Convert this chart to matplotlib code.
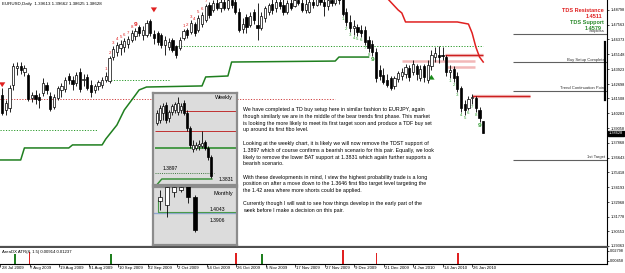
import numpy as np
import matplotlib
matplotlib.use('Agg')
import matplotlib.pyplot as plt
import matplotlib.transforms as mtransforms

plt.rcParams['font.family'] = ['Liberation Sans', 'DejaVu Sans']

# ---------------------------------------------------------------
# Data
# ---------------------------------------------------------------

# daily EURUSD candles, bar 1 = 29 Jul 2009 ... bar 131 = 29 Jan 2010
opens = [1.4179, 1.4056, 1.4072, 1.4262, 1.4402, 1.4418, 1.4369, 1.4344, 1.4155, 1.4179,
         1.4163, 1.4196, 1.4262, 1.4171, 1.4081, 1.4155, 1.4221, 1.4229, 1.4336, 1.4303,
         1.4278, 1.4369, 1.4303, 1.4328, 1.4262, 1.4221, 1.4254, 1.4262, 1.4303, 1.4295,
         1.4492, 1.4534, 1.4567, 1.4575, 1.4600, 1.4632, 1.4665, 1.4740, 1.4674, 1.4674,
         1.4789, 1.4682, 1.4690, 1.4674, 1.4591, 1.4575, 1.4632, 1.4583, 1.4567, 1.4649,
         1.4715, 1.4698, 1.4764, 1.4715, 1.4764, 1.4797, 1.4921, 1.4880, 1.4937, 1.4896,
         1.4946, 1.4896, 1.4962, 1.4946, 1.4863, 1.4723, 1.4822, 1.4756, 1.4863, 1.4756,
         1.4731, 1.4814, 1.4863, 1.4929, 1.4896, 1.4946, 1.4921, 1.4863, 1.4937, 1.4913,
         1.4962, 1.4937, 1.4880, 1.4863, 1.4946, 1.4921, 1.4978, 1.4946, 1.4913, 1.4962,
         1.4937, 1.4978, 1.4970, 1.4863, 1.4781, 1.4731, 1.4740, 1.4715, 1.4715, 1.4632,
         1.4600, 1.4534, 1.4385, 1.4344, 1.4303, 1.4319, 1.4254, 1.4311, 1.4336, 1.4352,
         1.4402, 1.4369, 1.4418, 1.4319, 1.4418, 1.4303, 1.4418, 1.4492, 1.4509, 1.4509,
         1.4492, 1.4369, 1.4394, 1.4336, 1.4237, 1.4105, 1.4072, 1.4155, 1.4155, 1.4056,
         1.39613]
highs = [1.4237, 1.4138, 1.4262, 1.4443, 1.4451, 1.4451, 1.4427, 1.4361, 1.4204, 1.4221,
         1.4196, 1.4319, 1.4287, 1.4204, 1.4188, 1.4254, 1.4278, 1.4328, 1.4361, 1.4336,
         1.4369, 1.4402, 1.4352, 1.4352, 1.4303, 1.4270, 1.4303, 1.4328, 1.4369, 1.4501,
         1.4583, 1.4616, 1.4632, 1.4649, 1.4665, 1.4715, 1.4731, 1.4756, 1.4748, 1.4797,
         1.4805, 1.4715, 1.4707, 1.4690, 1.4665, 1.4649, 1.4649, 1.4591, 1.4657, 1.4723,
         1.4731, 1.4797, 1.4781, 1.4838, 1.4863, 1.4929, 1.4946, 1.4962, 1.4978, 1.4978,
         1.4987, 1.4995, 1.5003, 1.4987, 1.4896, 1.4814, 1.4847, 1.4863, 1.4888, 1.4937,
         1.4863, 1.4913, 1.4937, 1.4978, 1.4987, 1.4995, 1.4978, 1.4962, 1.4987, 1.5003,
         1.5011, 1.4987, 1.4978, 1.4987, 1.5003, 1.5011, 1.5028, 1.5003, 1.4995, 1.5011,
         1.5020, 1.5028, 1.4995, 1.4896, 1.4838, 1.4797, 1.4764, 1.4756, 1.4748, 1.4665,
         1.4632, 1.4567, 1.4427, 1.4402, 1.4352, 1.4336, 1.4336, 1.4377, 1.4402, 1.4435,
         1.4427, 1.4468, 1.4435, 1.4427, 1.4435, 1.4468, 1.4550, 1.4575, 1.4583, 1.4575,
         1.4509, 1.4427, 1.4418, 1.4369, 1.4254, 1.4138, 1.4171, 1.4188, 1.4171, 1.4081,
         1.39662]
lows = [1.4015, 1.4015, 1.4039, 1.4221, 1.4344, 1.4352, 1.4336, 1.4130, 1.4122, 1.4105,
        1.4072, 1.4171, 1.4188, 1.4048, 1.4064, 1.4138, 1.4163, 1.4204, 1.4270, 1.4221,
        1.4254, 1.4204, 1.4254, 1.4221, 1.4163, 1.4196, 1.4221, 1.4237, 1.4287, 1.4278,
        1.4468, 1.4501, 1.4509, 1.4534, 1.4567, 1.4616, 1.4632, 1.4665, 1.4632, 1.4657,
        1.4665, 1.4600, 1.4591, 1.4567, 1.4509, 1.4550, 1.4534, 1.4484, 1.4550, 1.4632,
        1.4649, 1.4682, 1.4665, 1.4698, 1.4740, 1.4781, 1.4814, 1.4863, 1.4880, 1.4863,
        1.4880, 1.4880, 1.4896, 1.4847, 1.4698, 1.4690, 1.4690, 1.4740, 1.4764, 1.4632,
        1.4715, 1.4781, 1.4838, 1.4847, 1.4863, 1.4888, 1.4838, 1.4847, 1.4880, 1.4904,
        1.4921, 1.4863, 1.4855, 1.4855, 1.4896, 1.4913, 1.4921, 1.4830, 1.4880, 1.4913,
        1.4921, 1.4929, 1.4830, 1.4748, 1.4698, 1.4674, 1.4665, 1.4657, 1.4591, 1.4534,
        1.4501, 1.4287, 1.4303, 1.4270, 1.4245, 1.4221, 1.4229, 1.4287, 1.4303, 1.4319,
        1.4295, 1.4344, 1.4303, 1.4295, 1.4287, 1.4278, 1.4385, 1.4451, 1.4443, 1.4468,
        1.4336, 1.4319, 1.4287, 1.4204, 1.4039, 1.4015, 1.4056, 1.4105, 1.4039, 1.3957,
        1.38625]
closes = [1.4031, 1.4114, 1.4237, 1.4418, 1.4418, 1.4385, 1.4402, 1.4147, 1.4179, 1.4147,
          1.4138, 1.4278, 1.4221, 1.4064, 1.4163, 1.4237, 1.4254, 1.4303, 1.4303, 1.4270,
          1.4344, 1.4229, 1.4311, 1.4237, 1.4204, 1.4254, 1.4287, 1.4303, 1.4336, 1.4484,
          1.4558, 1.4591, 1.4600, 1.4624, 1.4641, 1.4690, 1.4707, 1.4690, 1.4715, 1.4772,
          1.4690, 1.4649, 1.4616, 1.4591, 1.4632, 1.4616, 1.4550, 1.4509, 1.4632, 1.4707,
          1.4674, 1.4772, 1.4690, 1.4814, 1.4838, 1.4913, 1.4838, 1.4937, 1.4896, 1.4946,
          1.4896, 1.4962, 1.4921, 1.4863, 1.4715, 1.4764, 1.4740, 1.4830, 1.4797, 1.4731,
          1.4830, 1.4896, 1.4921, 1.4880, 1.4946, 1.4913, 1.4863, 1.4937, 1.4896, 1.4962,
          1.4937, 1.4880, 1.4929, 1.4946, 1.4921, 1.4978, 1.4946, 1.4913, 1.4962, 1.4937,
          1.4978, 1.4962, 1.4847, 1.4781, 1.4731, 1.4748, 1.4698, 1.4690, 1.4616, 1.4567,
          1.4534, 1.4319, 1.4336, 1.4287, 1.4262, 1.4237, 1.4319, 1.4361, 1.4369, 1.4410,
          1.4328, 1.4435, 1.4352, 1.4394, 1.4328, 1.4427, 1.4509, 1.4525, 1.4492, 1.4501,
          1.4369, 1.4385, 1.4319, 1.4229, 1.4072, 1.4056, 1.4147, 1.4163, 1.4072, 1.3990,
          1.38628]

# date labels every 8 bars (bar 0 = 28 Jul 2009)
date_bars = [0, 8, 16, 24, 32, 40, 48, 56, 64, 72, 80, 88, 96, 104, 112, 120, 128]
date_text = ['28 Jul 2009', '7 Aug 2009', '19 Aug 2009', '31 Aug 2009', '10 Sep 2009',
             '22 Sep 2009', '2 Oct 2009', '14 Oct 2009', '26 Oct 2009', '5 Nov 2009',
             '17 Nov 2009', '27 Nov 2009', '9 Dec 2009', '21 Dec 2009', '4 Jan 2010',
             '14 Jan 2010', '26 Jan 2010']

axis_levels = [1.48798, 1.47563, 1.46373, 1.45148, 1.43923, 1.42698, 1.41508, 1.40283,
               1.39058, 1.37868, 1.36643, 1.35418, 1.34193, 1.32968, 1.31778, 1.30553, 1.29363]
last_price = 1.38628
# dark marker on the price scale (from, to)
scale_marker = (1.4616, 1.4138)

# TDST support (green) and resistance (red) lines
support_bars = [0, 6, 7, 19, 20, 28, 29, 32, 34, 36, 37, 38, 40, 55, 56, 62, 63, 91, 92, 100]
support_vals = [1.3644, 1.3644, 1.3743, 1.3743, 1.3768, 1.3768, 1.3817, 1.3932, 1.4056, 1.4138,
                1.4179, 1.4221, 1.4245, 1.4254, 1.4328, 1.4336, 1.4451, 1.4459, 1.4492, 1.4492]
resist_bars = [104, 105, 108, 109, 110, 124, 127, 128, 129, 130, 131]
resist_vals = [1.5020, 1.4978, 1.4880, 1.4855, 1.4781, 1.4781, 1.4764, 1.4690, 1.4575, 1.4492, 1.4451]

# dotted setup levels: (level, start bar, end bar)
green_dotted = [(1.3891, 0.4, 26.6), (1.4303, 29.6, 46.3), (1.4579, 48.5, 131)]
red_dotted = [(1.4147, 0.4, 91)]
# TD resistance lines (solid red) and pale bands
red_lines = [(1.4511, 120.7, 131), (1.4171, 128, 143.6)]
pink_bands = [(1.4459, 109, 128.8), (1.4410, 121.2, 128.8)]

# TD count bars
red_count_1 = list(range(29, 38))
red_count_2 = list(range(50, 57))
green_count_1 = list(range(93, 102))
green_count_2 = list(range(122, 131))

# arrows: (bar, tail, tip)
red_arrows = [(1, 1.4287, 1.4221), (42, 1.4896, 1.4838)]
green_arrows = [(117, 1.4311, 1.4369)]

# annotation levels on the right
levels_text = ['Stoploss', 'Buy Setup Complete', 'Trend Continuation Point', '1st Target']
levels_vals = [1.4682, 1.4451, 1.4213, 1.3646]

# indicator spikes
spike_bars = [4, 8, 30, 64, 71, 93, 102, 124]
spike_vals = [0.0210, 0.0257, 0.0210, 0.0233, 0.0210, 0.0304, 0.0233, 0.0233]
spike_up = [True, False, True, False, True, False, False, False]

# weekly inset candles
wk_open = [1.4447, 1.4480, 1.4557, 1.4645, 1.4502, 1.4568, 1.4590, 1.4568, 1.4590, 1.4667,
           1.4557, 1.4392, 1.4161, 1.4172, 1.4194, 1.4194, 1.4238, 1.4172, 1.4073]
wk_high = [1.4590, 1.4645, 1.4667, 1.4678, 1.4590, 1.4656, 1.4678, 1.4733, 1.4667, 1.4700,
           1.4590, 1.4414, 1.4260, 1.4238, 1.4260, 1.4359, 1.4260, 1.4194, 1.4095]
wk_low = [1.4425, 1.4447, 1.4480, 1.4447, 1.4458, 1.4535, 1.4557, 1.4535, 1.4557, 1.4535,
          1.4359, 1.4172, 1.4128, 1.4150, 1.4150, 1.4172, 1.4150, 1.4040, 1.3842]
wk_close = [1.4557, 1.4612, 1.4634, 1.4480, 1.4568, 1.4634, 1.4656, 1.4667, 1.4634, 1.4557,
            1.4392, 1.4205, 1.4205, 1.4205, 1.4216, 1.4227, 1.4172, 1.4073, 1.3864]

# monthly inset candles
mo_open = [1.4483, 1.4323, 1.4843, 1.4923, 1.5083, 1.4643]
mo_high = [1.4923, 1.5123, 1.5123, 1.5123, 1.5123, 1.4723]
mo_low = [1.4123, 1.3843, 1.4643, 1.4843, 1.4403, 1.3243]
mo_close = [1.4643, 1.5043, 1.5043, 1.5043, 1.4643, 1.3323]

comment = [
    ["We have completed a TD buy setup here in similar fashion to EURJPY, again",
     "though similarly we are in the middle of the bear trends first phase. This market",
     "is looking the more likely to meet its first target soon and produce a TDF buy set",
     "up around its first fibo level."],
    ["Looking at the weekly chart, it is likely we will now remove the TDST support of",
     "1.3897 which of course confirms a bearish scenario for this pair. Equally, we look",
     "likely to remove the lower BAT support at 1.3831 which again further supports a",
     "bearish scenario."],
    ["With these developments in mind, I view the highest probability trade is a long",
     "position on after a move down to the 1.3646 first fibo target level targeting the",
     "the 1.42 area where more shorts could be applied."],
    ["Currently though I will wait to see how things develop in the early part of the",
     "week before I make a decision on this pair."],
]

RED = '#e02020'
GREEN = '#1f7f1f'

# ---------------------------------------------------------------
# Helpers
# ---------------------------------------------------------------

W, H = 625, 273


def px_rect(x0, y0, x1, y1):
    """axes rectangle from pixel corners (top-left origin)"""
    return [x0 / W, 1 - y1 / H, (x1 - x0) / W, (y1 - y0) / H]


def candles(axis, xs, o, h, l, c, width, min_body):
    o, h, l, c = map(np.asarray, (o, h, l, c))
    xs = np.asarray(xs)
    up = c >= o
    axis.vlines(xs, l, h, color='black', lw=0.6, zorder=3)
    lo = np.minimum(o, c)
    hgt = np.maximum(np.abs(c - o), min_body)
    axis.bar(xs[up], hgt[up], bottom=lo[up], width=width, color='white',
             edgecolor='black', lw=0.5, zorder=4)
    axis.bar(xs[~up], hgt[~up], bottom=lo[~up], width=width, color='black',
             edgecolor='black', lw=0.5, zorder=4)


def bare(axis):
    axis.set_xticks([])
    axis.set_yticks([])


# ---------------------------------------------------------------
# Figure
# ---------------------------------------------------------------

fig = plt.figure(figsize=(6.25, 2.73), dpi=100)
ax = fig.add_axes(px_rect(0, 0, 607, 247))
ax2 = fig.add_axes(px_rect(0, 248, 607, 264))

bars = np.arange(1, len(closes) + 1)
candles(ax, bars, opens, highs, lows, closes, 0.6, 0.0003)

ax.set_xlim(0.405, 164.45)
ax.set_ylim(1.2927, 1.4962)

# TDST lines
ax.plot(support_bars, support_vals, color=GREEN, lw=1.1, zorder=2)
ax.plot(resist_bars, resist_vals, color=RED, lw=1.1, zorder=2)

for lvl, a, b in green_dotted:
    ax.hlines(lvl, a, b, color='#2a9a2a', lw=0.7, linestyles=(0, (1.2, 1.6)), zorder=1)
for lvl, a, b in red_dotted:
    ax.hlines(lvl, a, b, color='#d04040', lw=0.7, linestyles=(0, (1.2, 1.6)), zorder=1)
for lvl, a, b in pink_bands:
    ax.hlines(lvl, a, b, color='#f2b8b8', lw=1.8, zorder=1)
for lvl, a, b in red_lines:
    ax.hlines(lvl, a, b, color='#f2b8b8', lw=2.4, zorder=1)
    ax.hlines(lvl, a, b, color='#cc2020', lw=0.9, zorder=2)


# TD counts
def put_counts(count_bars, color, above):
    for n, b in enumerate(count_bars, start=1):
        big = n == 9
        if above:
            ax.annotate(str(n), (b, highs[b - 1]), xytext=(0, 0.8), textcoords='offset points',
                        ha='center', va='bottom', color=color, fontsize=4.6 if big else 3.2,
                        fontweight='bold' if big else 'normal', zorder=6)
        else:
            ax.annotate(str(n), (b, lows[b - 1]), xytext=(0, -0.8), textcoords='offset points',
                        ha='center', va='top', color=color, fontsize=4.6 if big else 3.2,
                        fontweight='bold' if big else 'normal', zorder=6)


put_counts(red_count_1, RED, True)
put_counts(red_count_2, RED, True)
put_counts(green_count_1, '#2e9a2e', False)
put_counts(green_count_2, '#2e9a2e', False)

arrow_style = 'simple,head_width=0.9,head_length=0.7,tail_width=0.35'
for b, tail, tip in red_arrows:
    ax.annotate('', xy=(b, tip), xytext=(b, tail),
                arrowprops=dict(arrowstyle=arrow_style, mutation_scale=5, color=RED, lw=0))
for b, tail, tip in green_arrows:
    ax.annotate('', xy=(b, tip), xytext=(b, tail),
                arrowprops=dict(arrowstyle=arrow_style, mutation_scale=5, color='#1a8a1a', lw=0))

# horizontal objects with their names
for name, lvl in zip(levels_text, levels_vals):
    ax.hlines(lvl, 139, 164.45, color='#606060', lw=0.8, zorder=2)
    ax.text(163.9, lvl + 0.0004, name, ha='right', va='bottom', fontsize=3.0, color='#303030')

# right price axis
ax.yaxis.tick_right()
ax.set_yticks(axis_levels)
ax.set_yticklabels(['%.5f' % v for v in axis_levels])
ax.tick_params(axis='y', labelsize=2.8, length=1.5, width=0.5, pad=0.8, colors='black')
ax.set_xticks([])
for s in ['top', 'left']:
    ax.spines[s].set_visible(False)
ax.spines['right'].set_linewidth(0.8)
ax.spines['bottom'].set_linewidth(1.6)
ax.spines['bottom'].set_color('#505050')

blend = mtransforms.blended_transform_factory(ax.transAxes, ax.transData)
ax.plot([0.997, 0.997], scale_marker, transform=blend, color='black', lw=1.6,
        clip_on=False, zorder=8)
ax.text(1.003, last_price, '%.5f' % last_price, transform=blend, fontsize=2.8, color='white',
        ha='left', va='center', zorder=10,
        bbox=dict(boxstyle='square,pad=0.2', facecolor='black', edgecolor='black'))

# header and TDS labels
fig.text(2 / W, 1 - 3.5 / H, 'EURUSD,Daily  1.39613 1.39662 1.38625 1.38628', fontsize=3.2,
         va='center', ha='left')
fig.text(604 / W, 1 - 10 / H, 'TDS Resistance', color=RED, fontsize=4.0, fontweight='bold',
         ha='right', va='center')
fig.text(602 / W, 1 - 16 / H, '1.4511', color=RED, fontsize=4.0, fontweight='bold',
         ha='right', va='center')
fig.text(604 / W, 1 - 22.5 / H, 'TDS Support', color='#2a8a2a', fontsize=4.0, fontweight='bold',
         ha='right', va='center')
fig.text(602 / W, 1 - 28.5 / H, '1.4579', color='#2a8a2a', fontsize=4.0, fontweight='bold',
         ha='right', va='center')

# commentary
para_top = [110, 144, 177, 203.5]
for top, lines in zip(para_top, comment):
    for k, line in enumerate(lines):
        fig.text(243 / W, 1 - (top + 6.6 * k) / H, line, fontsize=3.8, ha='left', va='center')

# ---------------------------------------------------------------
# Indicator panel
# ---------------------------------------------------------------

ax2.set_xlim(ax.get_xlim())
ax2.set_ylim(-0.00244, 0.035)
bottom = -0.00244
for b, v, up in zip(spike_bars, spike_vals, spike_up):
    ax2.bar(b, v - bottom, bottom=bottom, width=0.45, color=GREEN if up else RED, lw=0)
ax2.yaxis.tick_right()
ax2.set_yticks([0.02798, 0.00458])
ax2.set_yticklabels(['0.02798', '0.00458'])
ax2.tick_params(axis='y', labelsize=2.8, length=1.5, width=0.5, pad=0.8)
ax2.set_xticks(date_bars)
ax2.set_xticklabels([])
ax2.tick_params(axis='x', length=2, width=0.5, direction='out')
for s in ['top', 'left']:
    ax2.spines[s].set_visible(False)
ax2.spines['right'].set_linewidth(0.8)
ax2.spines['bottom'].set_linewidth(0.8)
for b, t in zip(date_bars, date_text):
    ax2.text(max(b + 0.2, 0.42), -0.12, t, transform=ax2.get_xaxis_transform(), fontsize=3.1,
             ha='left', va='top', clip_on=False)
ax2.text(2 / 607, 0.72, 'AreaDX ATR(8, 1.5) 0.00914 0.01237', transform=ax2.transAxes,
         fontsize=3.1, ha='left', va='center')

# ---------------------------------------------------------------
# Weekly inset
# ---------------------------------------------------------------

axw = fig.add_axes(px_rect(153, 93, 237, 185), zorder=5)
axw.set_facecolor('#dcdcdc')
wk_x = np.arange(1, len(wk_close) + 1)
candles(axw, wk_x, wk_open, wk_high, wk_low, wk_close, 0.55, 0.0004)
axw.set_xlim(-0.33, 27.67)
axw.set_ylim(1.3765, 1.4777)
axw.hlines(1.4579, 10.3, 28, color='#c03030', lw=0.7)
axw.hlines(1.4359, 0.3, 28, color='#c03030', lw=0.7)
axw.hlines(1.4172, 0.3, 28, color='#4a9a4a', lw=1.4)
axw.hlines(1.3897, 0.3, 20, color='#2a6a2a', lw=0.6, linestyles=(0, (1.2, 1.4)))
axw.plot([0.9, 2.6, 19.3], [1.3765, 1.3831, 1.3831], color='#2a8a2a', lw=1.0)
axw.text(0.95, 0.955, 'Weekly', transform=axw.transAxes, fontsize=4.0, ha='right', va='center')
axw.text(0.12, 0.175, '1.3897', transform=axw.transAxes, fontsize=3.6, ha='left', va='center')
axw.text(0.965, 0.065, '1.3831', transform=axw.transAxes, fontsize=3.6, ha='right', va='center')
bare(axw)
for s in axw.spines.values():
    s.set_color('#8c8c8c')
    s.set_linewidth(1.6)

# ---------------------------------------------------------------
# Monthly inset
# ---------------------------------------------------------------

axm = fig.add_axes(px_rect(153, 187, 237, 245), zorder=5)
axm.set_facecolor('#dcdcdc')
mo_x = np.arange(1, len(mo_close) + 1)
candles(axm, mo_x, mo_open, mo_high, mo_low, mo_close, 0.55, 0.002)
axm.set_xlim(0, 12)
axm.set_ylim(1.2723, 1.5043)
axm.hlines(1.3983, 0, 12, color='#8fa8d0', lw=1.0)
axm.plot([0.71, 0.71, 11.7], [1.4523, 1.4043, 1.4043], color='#4a9a4a', lw=0.8)
axm.text(0.95, 0.89, 'Monthly', transform=axm.transAxes, fontsize=4.0, ha='right', va='center')
axm.text(0.86, 0.62, '1.4043', transform=axm.transAxes, fontsize=3.6, ha='right', va='center')
axm.text(0.86, 0.43, '1.3906', transform=axm.transAxes, fontsize=3.6, ha='right', va='center')
bare(axm)
for s in axm.spines.values():
    s.set_color('#8c8c8c')
    s.set_linewidth(1.6)

fig.savefig('out.png', dpi=100)
